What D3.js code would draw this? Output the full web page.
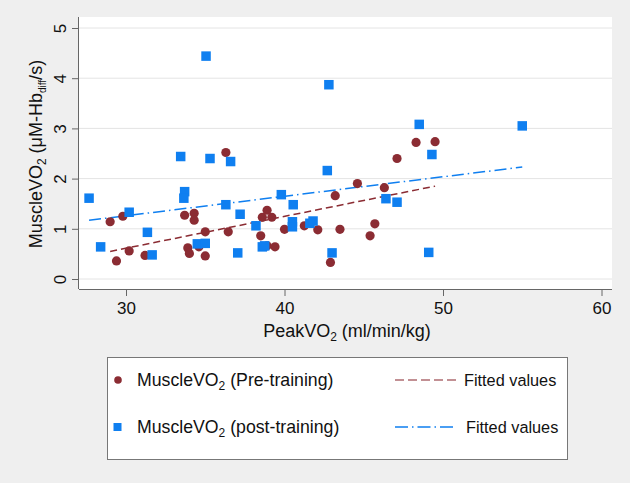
<!DOCTYPE html>
<html>
<head>
<meta charset="utf-8">
<script src="https://cdn.jsdelivr.net/npm/d3@7"></script>
<style>
  body { margin: 0; background: #efefef; }
  text { font-family: "Liberation Sans", Arial, sans-serif; fill: #111; }
</style>
</head>
<body>
<script>
// pre-training points (PeakVO2, MuscleVO2)
var preX = [29.0, 29.4, 29.8, 30.2, 31.2, 33.7, 33.9, 34.0, 34.3, 34.3, 34.6, 35.0, 35.0, 36.3, 36.45, 38.5, 38.6, 38.9, 38.9, 39.2, 39.4, 40.0, 41.25, 42.1, 42.9, 43.2, 43.5, 44.6, 45.4, 45.7, 46.3, 47.1, 48.3, 49.5];
var preY = [1.14, 0.36, 1.25, 0.56, 0.47, 1.27, 0.62, 0.51, 1.31, 1.17, 0.64, 0.94, 0.46, 2.52, 0.94, 0.86, 1.23, 1.37, 0.66, 1.23, 0.64, 0.99, 1.06, 0.98, 0.33, 1.66, 0.99, 1.90, 0.86, 1.10, 1.82, 2.40, 2.72, 2.735];

// post-training points
var postX = [27.67, 28.4, 30.2, 31.35, 31.65, 33.45, 33.7, 33.65, 34.5, 35.0, 35.05, 35.3, 36.3, 36.6, 37.05, 37.2, 38.2, 38.6, 38.75, 39.8, 40.55, 40.5, 40.5, 41.6, 41.8, 42.7, 42.8, 43.0, 46.4, 47.1, 48.5, 49.1, 49.3, 55.0];
var postY = [1.61, 0.64, 1.33, 0.93, 0.48, 2.44, 1.74, 1.61, 0.70, 0.71, 4.44, 2.40, 1.48, 2.34, 0.52, 1.29, 1.06, 0.64, 0.66, 1.68, 1.48, 1.14, 1.04, 1.11, 1.155, 2.16, 3.87, 0.52, 1.60, 1.53, 3.08, 0.53, 2.48, 3.05];

// fitted lines (end points)
var preFitX = [29.0, 49.5], preFitY = [0.55, 1.85];
var postFitX = [27.67, 55.0], postFitY = [1.17, 2.23];

var xTicks = [30, 40, 50, 60];
var yTicks = [0, 1, 2, 3, 4, 5];

var red = "#8b2c33", blue = "#0f7ff0";

var width = 630, height = 483;

var svg = d3.select("body").append("svg")
    .attr("width", width)
    .attr("height", height);

svg.append("rect").attr("width", width).attr("height", height).attr("fill", "#efefef");

var x = d3.scaleLinear().domain([30, 60]).range([126, 601.5]);
var y = d3.scaleLinear().domain([0, 5]).range([279, 28]);

//plot region
svg.append("rect")
    .attr("x", 79).attr("y", 17)
    .attr("width", 612 - 79).attr("height", 289 - 17)
    .attr("fill", "#fff");

//gridlines
svg.selectAll(".grid")
    .data(yTicks)
    .enter()
    .append("line")
    .attr("x1", 79).attr("x2", 612)
    .attr("y1", function(d){ return y(d); })
    .attr("y2", function(d){ return y(d); })
    .attr("stroke", "#e4e4e4")
    .attr("stroke-width", 1);

//axes
var xAxis = svg.append("g")
    .attr("transform", "translate(0,289)")
    .call(d3.axisBottom(x).tickValues(xTicks).tickFormat(d3.format("d")).tickSize(7).tickPadding(6));
xAxis.select(".domain").attr("d", "M79,0.5H612");

var yAxis = svg.append("g")
    .attr("transform", "translate(79,0)")
    .call(d3.axisLeft(y).tickValues(yTicks).tickFormat(d3.format("d")).tickSize(7).tickPadding(6));
yAxis.select(".domain").attr("d", "M-0.5,17V289");

svg.selectAll(".domain").attr("stroke", "#666");
svg.selectAll(".tick line").attr("stroke", "#666");
xAxis.selectAll(".tick text")
    .style("font-size", "17px")
    .style("font-family", "Liberation Sans, Arial, sans-serif")
    .attr("fill", "#222");
yAxis.selectAll(".tick text")
    .style("font-size", "17px")
    .style("font-family", "Liberation Sans, Arial, sans-serif")
    .attr("fill", "#222")
    .attr("text-anchor", "middle")
    .attr("dy", null)
    .attr("x", null)
    .attr("transform", "translate(-19,0) rotate(-90)")
    .attr("dominant-baseline", "central");

//axis titles
var xt = svg.append("text")
    .attr("x", 347).attr("y", 337)
    .attr("text-anchor", "middle")
    .style("font-size", "18px");
xt.append("tspan").text("PeakVO");
xt.append("tspan").attr("dy", 4).style("font-size", "12px").text("2");
xt.append("tspan").attr("dy", -4).text(" (ml/min/kg)");

var yt = svg.append("text")
    .attr("transform", "translate(42,154) rotate(-90)")
    .attr("text-anchor", "middle")
    .style("font-size", "18px");
yt.append("tspan").text("MuscleVO");
yt.append("tspan").attr("dy", 4).style("font-size", "12px").text("2");
yt.append("tspan").attr("dy", -4).text(" (\u03bcM-Hb");
yt.append("tspan").attr("dy", 4).style("font-size", "10px").text("diff");
yt.append("tspan").attr("dy", -4).text("/s)");

//fitted lines
var line = d3.line()
    .x(function(d){ return x(d[0]); })
    .y(function(d){ return y(d[1]); });

svg.append("path")
    .datum(d3.zip(preFitX, preFitY))
    .attr("d", line)
    .attr("fill", "none")
    .attr("stroke", red)
    .attr("stroke-width", 1.5)
    .attr("stroke-dasharray", "7,4");

svg.append("path")
    .datum(d3.zip(postFitX, postFitY))
    .attr("d", line)
    .attr("fill", "none")
    .attr("stroke", blue)
    .attr("stroke-width", 1.5)
    .attr("stroke-dasharray", "12,4,1.5,4");

//pre-training markers
svg.selectAll(".pre")
    .data(d3.zip(preX, preY))
    .enter()
    .append("circle")
    .attr("class", "pre")
    .attr("cx", function(d){ return x(d[0]); })
    .attr("cy", function(d){ return y(d[1]); })
    .attr("r", 4.6)
    .attr("fill", red);

//post-training markers
var sq = 9.5;
svg.selectAll(".post")
    .data(d3.zip(postX, postY))
    .enter()
    .append("rect")
    .attr("class", "post")
    .attr("x", function(d){ return x(d[0]) - sq / 2; })
    .attr("y", function(d){ return y(d[1]) - sq / 2; })
    .attr("width", sq).attr("height", sq)
    .attr("fill", blue);

//legend
var lg = svg.append("g");
lg.append("rect")
    .attr("x", 107.5).attr("y", 357.5)
    .attr("width", 460).attr("height", 102)
    .attr("fill", "#fff")
    .attr("stroke", "#777");

lg.append("circle").attr("cx", 118).attr("cy", 380).attr("r", 3.8).attr("fill", red);
lg.append("rect").attr("x", 113.5).attr("y", 423).attr("width", 8).attr("height", 8).attr("fill", blue);

function legendLabel(yy, label){
    var t = lg.append("text").attr("x", 137).attr("y", yy).style("font-size", "17.7px");
    t.append("tspan").text("MuscleVO");
    t.append("tspan").attr("dy", 4).style("font-size", "12px").text("2");
    t.append("tspan").attr("dy", -4).text(" " + label);
}
legendLabel(386, "(Pre-training)");
legendLabel(433, "(post-training)");

lg.append("line").attr("x1", 395).attr("x2", 457).attr("y1", 380).attr("y2", 380)
    .attr("stroke", red).attr("stroke-opacity", 0.7).attr("stroke-width", 1.5).attr("stroke-dasharray", "9,4");
lg.append("line").attr("x1", 395).attr("x2", 457).attr("y1", 427).attr("y2", 427)
    .attr("stroke", blue).attr("stroke-width", 1.5).attr("stroke-dasharray", "13,4,1.5,4");

lg.append("text").attr("x", 464).attr("y", 386).style("font-size", "16.3px").text("Fitted values");
lg.append("text").attr("x", 466).attr("y", 433).style("font-size", "16.3px").text("Fitted values");
</script>
</body>
</html>
